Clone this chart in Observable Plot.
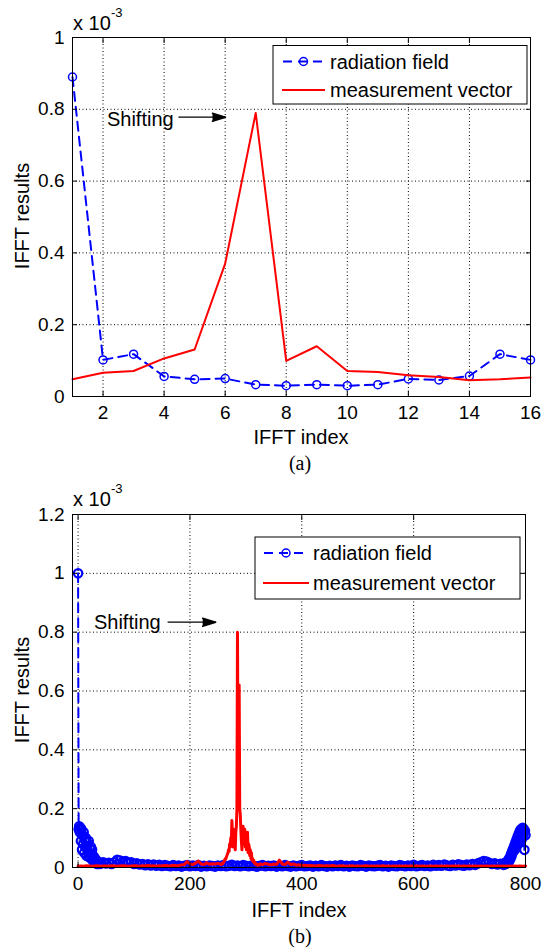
<!DOCTYPE html>
<html><head><meta charset="utf-8">
<script src="https://cdn.jsdelivr.net/npm/d3@7"></script>
<script src="https://cdn.jsdelivr.net/npm/@observablehq/plot@0.6"></script>
<style>
body{margin:0;background:#fff;}
#wrap{position:relative;width:543px;height:951px;font-family:"Liberation Sans",Arial,sans-serif;overflow:hidden;}
#wrap > svg{position:absolute;left:0;}
</style></head><body><div id="wrap"></div>
<script>
// ---------- (a) 16-point IFFT ----------
const topIndex = [1,2,3,4,5,6,7,8,9,10,11,12,13,14,15,16];
const topRadiation = [0.89,0.102,0.118,0.056,0.048,0.050,0.033,0.030,0.033,0.030,0.033,0.049,0.046,0.057,0.118,0.102];
const topMeasurement = [0.048,0.066,0.071,0.106,0.131,0.37,0.79,0.099,0.14,0.071,0.068,0.059,0.054,0.045,0.048,0.053];
const topXTicks = [2,4,6,8,10,12,14,16];
const topYTicks = [0,0.2,0.4,0.6,0.8,1];
const topLabel = [{x:3.22, y:0.772, text:"Shifting"}];
const topArrow = [{x1:4.47, x2:6.01, y:0.778}];

// ---------- (b) 801-point IFFT ----------
const botBlueIndex = [].concat(d3.range(0,41), d3.range(45,756,5), d3.range(760,801));
const botBlueHead = [
 1.0,0.13,0.14,0.12,0.135,0.09,0.13,0.06,0.11,0.08,
 0.12,0.05,0.095,0.07,0.1,0.04,0.085,0.06,0.05,0.09,
 0.035,0.065,0.045,0.07,0.03,0.06,0.025,0.04,0.02,0.035,
 0.018,0.028,0.015,0.024,0.012,0.02,0.014,0.018,0.012,0.016,
 0.013];
const botBlueMid = [
 0.018,0.014,0.016,0.012,0.018,0.026,0.024,0.02,0.022,0.016,
 0.018,0.012,0.014,0.01,0.012,0.008,0.011,0.007,0.01,0.006,
 0.009,0.005,0.008,0.006,0.004,0.008,0.005,0.007,0.003,0.006,
 0.008,0.004,0.007,0.005,0.008,0.003,0.006,0.004,0.007,0.005,
 0.003,0.007,0.005,0.008,0.004,0.006,0.009,0.005,0.007,0.004,
 0.008,0.006,0.004,0.007,0.005,0.003,0.006,0.008,0.004,0.006,
 0.005,0.007,0.003,0.006,0.004,0.008,0.005,0.003,0.007,0.004,
 0.006,0.008,0.004,0.005,0.007,0.003,0.006,0.004,0.008,0.005,
 0.003,0.006,0.004,0.007,0.005,0.008,0.004,0.006,0.003,0.007,
 0.005,0.004,0.008,0.006,0.003,0.007,0.005,0.004,0.006,0.008,
 0.004,0.006,0.003,0.007,0.005,0.004,0.008,0.006,0.004,0.007,
 0.005,0.009,0.004,0.006,0.008,0.005,0.007,0.004,0.009,0.006,
 0.008,0.006,0.01,0.007,0.005,0.009,0.007,0.011,0.008,0.006,
 0.01,0.008,0.012,0.009,0.014,0.018,0.022,0.02,0.016,0.012,
 0.014,0.01,0.013];
const botBlueTail = [
 0.012,0.009,0.014,0.011,0.016,0.013,0.018,0.015,0.022,0.018,
 0.028,0.022,0.035,0.03,0.045,0.038,0.055,0.05,0.065,0.058,
 0.075,0.06,0.085,0.07,0.095,0.08,0.105,0.09,0.115,0.085,
 0.125,0.1,0.13,0.095,0.12,0.135,0.11,0.13,0.06,0.125,
 0.11];
const botBlueValues = [].concat(botBlueHead, botBlueMid, botBlueTail);

const botRedIndex = [].concat(d3.range(0,256,5), d3.range(256,325), d3.range(325,801,5));
const botRedValues = [
 // 0..255 step 5
 0.004,0.005,0.004,0.006,0.005,0.004,0.005,0.006,0.004,0.005,
 0.005,0.004,0.006,0.005,0.004,0.005,0.006,0.005,0.004,0.005,
 0.006,0.005,0.004,0.006,0.005,0.007,0.005,0.006,0.004,0.006,
 0.005,0.007,0.006,0.005,0.008,0.006,0.007,0.009,0.01,0.02,
 0.012,0.01,0.015,0.022,0.012,0.01,0.016,0.011,0.013,0.012,
 0.014,0.011,
 // 256..324 step 1
 0.01,0.012,0.015,0.013,0.018,0.02,0.025,0.03,0.028,0.035,
 0.04,0.045,0.05,0.06,0.055,0.08,0.07,0.1,0.09,0.16,
 0.11,0.07,0.13,0.08,0.11,0.06,0.12,0.14,0.2,0.8,
 0.35,0.23,0.62,0.2,0.18,0.13,0.09,0.06,0.12,0.14,
 0.08,0.11,0.13,0.07,0.1,0.06,0.09,0.12,0.05,0.08,
 0.07,0.04,0.06,0.03,0.05,0.025,0.03,0.02,0.025,0.015,
 0.018,0.012,0.01,0.012,0.009,0.011,0.008,0.01,0.009,
 // 325..800 step 5
 0.012,0.01,0.014,0.011,0.009,0.012,0.01,0.025,0.012,0.01,
 0.018,0.01,0.012,0.008,0.009,0.007,0.008,0.006,0.007,0.006,
 0.005,0.007,0.006,0.005,0.006,0.005,0.007,0.005,0.004,0.006,
 0.005,0.004,0.005,0.006,0.004,0.005,0.004,0.005,0.006,0.004,
 0.005,0.004,0.005,0.004,0.006,0.004,0.005,0.004,0.005,0.004,
 0.005,0.004,0.005,0.004,0.005,0.004,0.005,0.004,0.005,0.004,
 0.004,0.005,0.004,0.005,0.004,0.005,0.004,0.005,0.004,0.005,
 0.004,0.005,0.004,0.005,0.004,0.005,0.004,0.005,0.004,0.005,
 0.004,0.005,0.004,0.005,0.004,0.005,0.004,0.005,0.004,0.005,
 0.004,0.005,0.004,0.005,0.004,0.005];
const botXTicks = [0,200,400,600,800];
const botYTicks = [0,0.2,0.4,0.6,0.8,1,1.2];
const botLabel = [{x:88, y:0.834, text:"Shifting"}];
const botArrow = [{x1:160, x2:246, y:0.834}];

const legendNames = ["radiation field","measurement vector"];
const BLUE = "#0000ff", RED = "#ff0000";

function pairs(xs, ys){ return xs.map((x,i)=>({x, y:ys[i]})).filter(d=>d.y!==undefined); }

function makeChart(cfg){
  const grid = {stroke:"#000", strokeOpacity:1, strokeWidth:1, strokeDasharray:"1,2.5"};
  const fmt = d => String(d);
  return Plot.plot({
    width:543, height:cfg.height,
    marginTop:cfg.mt, marginBottom:cfg.mb, marginLeft:72, marginRight:cfg.mr,
    style:{fontFamily:'"Liberation Sans", Arial, sans-serif', fontSize:"19px", color:"#000", background:"transparent", overflow:"visible"},
    x:{domain:cfg.xDomain},
    y:{domain:cfg.yDomain},
    marks:[
      Plot.gridX(cfg.xTicks, grid),
      Plot.gridY(cfg.yTicks, grid),
      Plot.line(cfg.blue, {x:"x", y:"y", stroke:BLUE, strokeWidth:2, strokeDasharray:"9,6"}),
      Plot.dot(cfg.blue, {x:"x", y:"y", r:cfg.dotR, stroke:BLUE, strokeWidth:cfg.dotW, fill:"none"}),
      Plot.line(cfg.red, {x:"x", y:"y", stroke:RED, strokeWidth:cfg.redWidth}),
      Plot.frame({stroke:"#000", strokeWidth:1}),
      Plot.axisX(cfg.xTicks, {anchor:"bottom", tickSize:-5, tickPadding:14, fontSize:19, tickFormat:fmt, label:null}),
      Plot.axisX(cfg.xTicks, {anchor:"top", tickSize:-5, tickFormat:()=>"", label:null}),
      Plot.axisY(cfg.yTicks, {anchor:"left", tickSize:-5, tickPadding:13, fontSize:19, tickFormat:fmt, label:null}),
      Plot.axisY(cfg.yTicks, {anchor:"right", tickSize:-5, tickFormat:()=>"", label:null}),
      Plot.link(cfg.arrow, {x1:"x1", x2:"x2", y1:"y", y2:"y", stroke:"#000", strokeWidth:1.2}),
      Plot.vector(cfg.arrow, {x:"x2", y:"y", shape:"spike", anchor:"end", length:13, r:4, rotate:90, fill:"#000", stroke:"#000"}),
      Plot.text(cfg.label, {x:"x", y:"y", text:"text", fontSize:20, fill:"#000"})
    ]
  });
}

const wrap = document.getElementById("wrap");
const c1 = makeChart({
  height:420, mt:37, mb:24, mr:13,
  xDomain:[1,16], yDomain:[0,1], xTicks:topXTicks, yTicks:topYTicks,
  blue:pairs(topIndex, topRadiation), red:pairs(topIndex, topMeasurement), redWidth:2,
  dotR:4, dotW:1.5,
  label:topLabel, arrow:topArrow
});
c1.style.top = "0px";
wrap.appendChild(c1);

const c2 = makeChart({
  height:411, mt:34, mb:24, mr:18,
  xDomain:[-10,800], yDomain:[0,1.2], xTicks:botXTicks, yTicks:botYTicks,
  blue:pairs(botBlueIndex, botBlueValues), red:pairs(botRedIndex, botRedValues), redWidth:3,
  dotR:4.2, dotW:2.2,
  label:botLabel, arrow:botArrow
});
c2.style.top = "480px";
wrap.appendChild(c2);

// overlay: axis titles, multipliers, captions, legends
function legend(x, y, w, h, lx1, lx2, tx, r1, r2){
  const cx = (lx1+lx2)/2;
  return `<rect x="${x}" y="${y}" width="${w}" height="${h}" fill="#fff" stroke="#000" stroke-width="1"/>
  <line x1="${lx1}" x2="${lx2}" y1="${r1}" y2="${r1}" stroke="${BLUE}" stroke-width="2" stroke-dasharray="9,6" stroke-dashoffset="-1"/>
  <circle cx="${cx}" cy="${r1}" r="4" fill="none" stroke="${BLUE}" stroke-width="1.5"/>
  <line x1="${lx1}" x2="${lx2}" y1="${r2}" y2="${r2}" stroke="${RED}" stroke-width="2"/>
  <text x="${tx}" y="${r1+7}" font-size="20">${legendNames[0]}</text>
  <text x="${tx}" y="${r2+7}" font-size="20">${legendNames[1]}</text>`;
}
const ov = `<svg width="543" height="951" style="top:0;pointer-events:none" font-family="Liberation Sans, Arial, sans-serif" fill="#000">
 <text x="73" y="30" font-size="20">x 10</text><text x="111" y="17" font-size="13">-3</text>
 <text x="73" y="506" font-size="20">x 10</text><text x="111" y="493" font-size="13">-3</text>
 <text transform="translate(29,216) rotate(-90)" text-anchor="middle" font-size="20">IFFT results</text>
 <text transform="translate(29,690) rotate(-90)" text-anchor="middle" font-size="20">IFFT results</text>
 <text x="301" y="444" text-anchor="middle" font-size="20">IFFT index</text>
 <text x="299" y="917" text-anchor="middle" font-size="20">IFFT index</text>
 <text x="300" y="470" text-anchor="middle" font-size="20" font-family="Liberation Serif, Times New Roman, serif">(a)</text>
 <text x="300" y="943" text-anchor="middle" font-size="20" font-family="Liberation Serif, Times New Roman, serif">(b)</text>
 ${legend(273,45.5,254,58.5,282,325,330,61.5,90)}
 ${legend(255,537,265,62,263,309,313,553,583)}
</svg>`;
wrap.insertAdjacentHTML("beforeend", ov);
</script>
</body></html>
